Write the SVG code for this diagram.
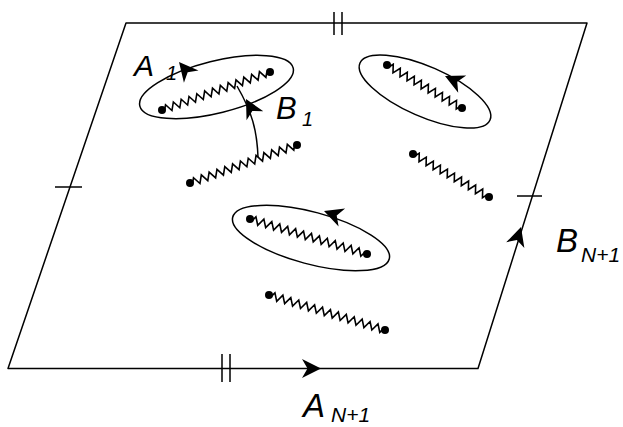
<svg xmlns="http://www.w3.org/2000/svg" width="623" height="427" viewBox="0 0 623 427">
<style>
.ln{fill:none;stroke:#000;stroke-width:1.5;stroke-linejoin:round}
.zz{fill:none;stroke:#000;stroke-width:1.6;stroke-linejoin:miter}
.dot{fill:#000}
.ah{fill:#000;stroke:none}
.lbl{font-family:"Liberation Sans",Arial,sans-serif;font-style:italic;fill:#000}
</style>
<defs>
<path id="zzA" d="M0,0h3l2.075,-3.8l4.15,7.6l4.15,-7.6l4.15,7.6l4.15,-7.6l4.15,7.6l4.15,-7.6l4.15,7.6l4.15,-7.6l4.15,7.6l4.15,-7.6l4.15,7.6l4.15,-7.6l4.15,7.6l4.15,-7.6l4.15,7.6l4.15,-7.6l4.15,7.6l4.15,-7.6l4.15,7.6l4.15,-7.6l4.15,7.6l4.15,-7.6l4.15,7.6l4.15,-7.6l4.15,7.6l2.075,-3.8h3"/>
<path id="zzB" d="M0,0h3l2.025,-3.8l4.05,7.6l4.05,-7.6l4.05,7.6l4.05,-7.6l4.05,7.6l4.05,-7.6l4.05,7.6l4.05,-7.6l4.05,7.6l4.05,-7.6l4.05,7.6l4.05,-7.6l4.05,7.6l4.05,-7.6l4.05,7.6l4.05,-7.6l4.05,7.6l4.05,-7.6l4.05,7.6l2.025,-3.8h3"/>
<path id="zzC" d="M0,0h3l2.07,-3.8l4.14,7.6l4.14,-7.6l4.14,7.6l4.14,-7.6l4.14,7.6l4.14,-7.6l4.14,7.6l4.14,-7.6l4.14,7.6l4.14,-7.6l4.14,7.6l4.14,-7.6l4.14,7.6l4.14,-7.6l4.14,7.6l4.14,-7.6l4.14,7.6l4.14,-7.6l4.14,7.6l4.14,-7.6l4.14,7.6l4.14,-7.6l4.14,7.6l4.14,-7.6l4.14,7.6l4.14,-7.6l4.14,7.6l2.07,-3.8h3"/>
<path id="ah" d="M0,0L-19,-9.5L-13.5,0L-19,9.5Z"/>
</defs>

<g id="surface">
<path class="ln" d="M126,23L587,23L478,368.5L8,368.5Z"/>
<path class="ln" d="M334,12V35M342,12V35"/>
<path class="ln" d="M222,354V382M230,354V382"/>
<path class="ln" d="M55,187H82"/>
<path class="ln" d="M517,196H542"/>
</g>

<g id="loop-A1">
<ellipse class="ln" cx="216.5" cy="87" rx="79" ry="26" transform="rotate(-14 216.5 87)"/>
<use href="#zzA" class="zz" transform="translate(162,110) rotate(-19.4)"/>
<circle class="dot" cx="162" cy="110" r="4"/>
<circle class="dot" cx="270" cy="72" r="4"/>
</g>

<g id="loop-2">
<ellipse class="ln" cx="425" cy="91.5" rx="71" ry="25" transform="rotate(23.7 425 91.5)"/>
<use href="#zzB" class="zz" transform="translate(387,65) rotate(29.8)"/>
<circle class="dot" cx="387" cy="65" r="4"/>
<circle class="dot" cx="462" cy="108" r="4"/>
</g>

<g id="loop-3">
<ellipse class="ln" cx="311" cy="238" rx="81" ry="26" transform="rotate(15 311 238)"/>
<use href="#zzC" class="zz" transform="translate(250,219) rotate(16.7)"/>
<circle class="dot" cx="250" cy="219" r="4"/>
<circle class="dot" cx="367" cy="254" r="4"/>
</g>

<g id="cut-4">
<use href="#zzA" class="zz" transform="translate(190,183) rotate(-19.6)"/>
<circle class="dot" cx="190" cy="183" r="4"/>
<circle class="dot" cx="297" cy="145" r="4"/>
</g>

<g id="cut-5">
<use href="#zzB" class="zz" transform="translate(413,154) rotate(29.5)"/>
<circle class="dot" cx="413" cy="154" r="4"/>
<circle class="dot" cx="489" cy="197" r="4"/>
</g>

<g id="cut-6">
<use href="#zzC" class="zz" transform="translate(269,295) rotate(16.8)"/>
<circle class="dot" cx="269" cy="295" r="4"/>
<circle class="dot" cx="385" cy="330" r="4"/>
</g>

<g id="connectors">
<path class="ln" d="M258,157C257,130 252,112 237,86"/>
<use href="#ah" class="ah" transform="translate(246,99) rotate(-118)"/>
<use href="#ah" class="ah" transform="translate(179,62) rotate(-130)"/>
<use href="#ah" class="ah" transform="translate(445,76) rotate(-155)"/>
<use href="#ah" class="ah" transform="translate(324,211) rotate(-160)"/>
<use href="#ah" class="ah" transform="translate(321,368.5)"/>
<use href="#ah" class="ah" transform="translate(521,227) rotate(-72.5)"/>
</g>

<g id="labels">
<text class="lbl" x="134" y="76" font-size="30">A</text>
<text class="lbl" x="166" y="80" font-size="20">1</text>
<text class="lbl" x="276" y="119" font-size="31">B</text>
<text class="lbl" x="302" y="126" font-size="20">1</text>
<text class="lbl" x="556" y="252" font-size="33">B</text>
<text class="lbl" x="581" y="262" font-size="21">N+1</text>
<text class="lbl" x="303" y="417" font-size="33">A</text>
<text class="lbl" x="331" y="422" font-size="21">N+1</text>
</g>
</svg>
